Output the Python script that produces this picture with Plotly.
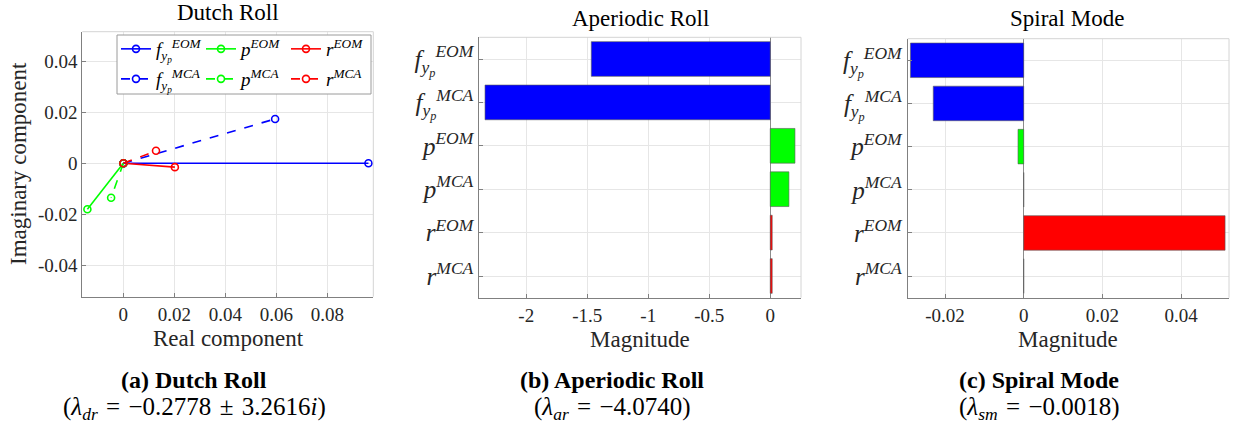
import plotly.graph_objects as go

W, H = 1233, 429
SERIF = "Liberation Serif, DejaVu Serif, serif"

# Dutch roll mode: real / imaginary components of each state, EOM vs MCA
dr_states = ["f", "p", "r"]
dr_eom_real = [0.0961, -0.0141, 0.0202]
dr_eom_imag = [0.0, -0.0180, -0.0015]
dr_mca_real = [0.0595, -0.0048, 0.0128]
dr_mca_imag = [0.0174, -0.0135, 0.0049]

# Bar categories (top to bottom)
bar_labels = [
    "<i>f</i><sub><i>y<sub>p</sub></i></sub><sup><i>EOM</i></sup>",
    "<i>f</i><sub><i>y<sub>p</sub></i></sub><sup><i>MCA</i></sup>",
    "<i>p</i><sup><i>EOM</i></sup>",
    "<i>p</i><sup><i>MCA</i></sup>",
    "<i>r</i><sup><i>EOM</i></sup>",
    "<i>r</i><sup><i>MCA</i></sup>",
]
# Aperiodic roll magnitudes
ar_values = [-1.467, -2.338, 0.2025, 0.153, 0.016, 0.016]
# Spiral mode magnitudes
sm_values = [-0.0288, -0.0230, -0.00145, 0.0, 0.0512, 0.0]

colors = {"f": "#0000ff", "p": "#00ff00", "r": "#ff0000"}
bar_colors = ["#0000ff", "#0000ff", "#00ff00", "#00ff00", "#ff0000", "#ff0000"]

legend_names = {
    "f": ("<i>f</i><sub><i>y<sub>p</sub></i></sub><sup><i>EOM</i></sup>",
          "<i>f</i><sub><i>y<sub>p</sub></i></sub><sup><i>MCA</i></sup>"),
    "p": ("<i>p</i><sup><i>EOM</i></sup>", "<i>p</i><sup><i>MCA</i></sup>"),
    "r": ("<i>r</i><sup><i>EOM</i></sup>", "<i>r</i><sup><i>MCA</i></sup>"),
}

fig = go.Figure()

# EOM traces (solid) -> first legend row
for i, s in enumerate(dr_states):
    fig.add_trace(go.Scatter(
        x=[0, dr_eom_real[i]], y=[0, dr_eom_imag[i]],
        mode="lines+markers", name=legend_names[s][0],
        line=dict(color=colors[s], width=1.6),
        marker=dict(symbol="circle-open", size=7, color=colors[s], line=dict(width=1.6)),
        xaxis="x", yaxis="y", legend="legend",
    ))
# MCA traces (dashed) -> second legend row
for i, s in enumerate(dr_states):
    fig.add_trace(go.Scatter(
        x=[0, dr_mca_real[i]], y=[0, dr_mca_imag[i]],
        mode="lines+markers", name=legend_names[s][1],
        line=dict(color=colors[s], width=1.6, dash="dash"),
        marker=dict(symbol="circle-open", size=7, color=colors[s], line=dict(width=1.6)),
        xaxis="x", yaxis="y", legend="legend2",
    ))

fig.add_trace(go.Bar(
    x=ar_values, y=bar_labels, orientation="h", width=0.8,
    marker=dict(color=bar_colors, line=dict(color="#5a5a5a", width=0.6)),
    xaxis="x2", yaxis="y2", showlegend=False,
))
fig.add_trace(go.Bar(
    x=sm_values, y=bar_labels, orientation="h", width=0.8,
    marker=dict(color=bar_colors, line=dict(color="#5a5a5a", width=0.6)),
    xaxis="x3", yaxis="y3", showlegend=False,
))


def px(x):
    return x / W


def py(y):
    return 1 - y / H


tickfont = dict(family=SERIF, size=19, color="#262626")
catfont = dict(family=SERIF, size=25, color="#262626")
grid = "#e6e6e6"
axline = "#808080"

common = dict(showgrid=True, gridcolor=grid, showline=True, linecolor=axline,
              linewidth=1, ticks="inside", ticklen=4, tickcolor=axline,
              tickfont=tickfont, zeroline=False)

dom_a = ([px(82.3), px(373.3)], [py(296.7), py(31.7)])
dom_b = ([px(479.3), px(801.0)], [py(297.7), py(37.3)])
dom_c = ([px(907.7), px(1229.0)], [py(297.7), py(38.7)])

legend_style = dict(orientation="h", xanchor="left", yanchor="top",
                    bgcolor="rgba(0,0,0,0)", entrywidth=40, entrywidthmode="pixels",
                    itemwidth=30, font=dict(family=SERIF, size=19, color="#000"),
                    tracegroupgap=0)

fig.update_layout(
    width=W, height=H,
    margin=dict(l=0, r=0, t=0, b=0),
    paper_bgcolor="white", plot_bgcolor="white",
    font=dict(family=SERIF),
    xaxis=dict(domain=dom_a[0], range=[-0.0161, 0.098],
               tickvals=[0, 0.02, 0.04, 0.06, 0.08],
               ticktext=["0", "0.02", "0.04", "0.06", "0.08"], **common),
    yaxis=dict(domain=dom_a[1], range=[-0.0523, 0.0516],
               tickvals=[-0.04, -0.02, 0, 0.02, 0.04],
               ticktext=["-0.04", "-0.02", "0", "0.02", "0.04"], **common),
    xaxis2=dict(domain=dom_b[0], range=[-2.385, 0.252], anchor="y2",
                tickvals=[-2, -1.5, -1, -0.5, 0],
                ticktext=["-2", "-1.5", "-1", "-0.5", "0"], **common),
    yaxis2=dict(domain=dom_b[1], anchor="x2", categoryorder="array",
                categoryarray=bar_labels, autorange="reversed",
                **{**common, "tickfont": catfont}),
    xaxis3=dict(domain=dom_c[0], range=[-0.0295, 0.0522], anchor="y3",
                tickvals=[-0.02, 0, 0.02, 0.04],
                ticktext=["-0.02", "0", "0.02", "0.04"], **common),
    yaxis3=dict(domain=dom_c[1], anchor="x3", categoryorder="array",
                categoryarray=bar_labels, autorange="reversed",
                **{**common, "tickfont": catfont}),
    bargap=0.2,
    legend=dict(x=px(116), y=py(30), **legend_style),
    legend2=dict(x=px(116), y=py(60), **legend_style),
)

# zero lines on the bar charts
for name in ("xaxis2", "xaxis3"):
    fig.layout[name].update(zeroline=True, zerolinecolor="#8c8c8c", zerolinewidth=1)

shapes = []
# light top / right frame edges
for xd, yd in (("x domain", "y domain"), ("x2 domain", "y2 domain"), ("x3 domain", "y3 domain")):
    shapes.append(dict(type="line", xref=xd, yref=yd, x0=0, x1=1, y0=1, y1=1,
                       line=dict(color="#d4d4d4", width=1)))
    shapes.append(dict(type="line", xref=xd, yref=yd, x0=1, x1=1, y0=0, y1=1,
                       line=dict(color="#d4d4d4", width=1)))
# legend box
shapes.append(dict(type="rect", xref="paper", yref="paper",
                   x0=px(117), x1=px(371.0), y0=py(94.0), y1=py(35.0),
                   fillcolor="white", line=dict(color="#9a9a9a", width=1), layer="above"))
fig.update_layout(shapes=shapes)

ann = []
title_font = dict(family=SERIF, size=23, color="#000")
label_font = dict(family=SERIF, size=23, color="#262626")
for text, x, y in (("Dutch Roll", 228, 13), ("Aperiodic Roll", 640, 19), ("Spiral Mode", 1067, 19)):
    ann.append(dict(text=text, x=px(x), y=py(y), xref="paper", yref="paper",
                    showarrow=False, xanchor="center", yanchor="middle", font=title_font))
for text, x, y in (("Real component", 228, 338), ("Magnitude", 640, 339), ("Magnitude", 1068, 339)):
    ann.append(dict(text=text, x=px(x), y=py(y), xref="paper", yref="paper",
                    showarrow=False, xanchor="center", yanchor="middle", font=label_font))
ann.append(dict(text="Imaginary component", x=px(19), y=py(164), xref="paper", yref="paper",
                showarrow=False, xanchor="center", yanchor="middle", textangle=-90,
                font=label_font))

head_font = dict(family=SERIF, size=24, color="#000")
eq_font = dict(family=SERIF, size=25, color="#000")
sp = "\u2004"
captions = [
    ("<b>(a) Dutch Roll</b>",
     f"(<i>λ</i><sub><i>dr</i></sub>{sp}={sp}−0.2778{sp}±{sp}3.2616<i>i</i>)", 194),
    ("<b>(b) Aperiodic Roll</b>", f"(<i>λ</i><sub><i>ar</i></sub>{sp}={sp}−4.0740)", 612),
    ("<b>(c) Spiral Mode</b>", f"(<i>λ</i><sub><i>sm</i></sub>{sp}={sp}−0.0018)", 1039),
]
for head, eq, x in captions:
    ann.append(dict(text=head, x=px(x), y=py(380), xref="paper", yref="paper",
                    showarrow=False, xanchor="center", yanchor="middle", font=head_font))
    ann.append(dict(text=eq, x=px(x), y=py(408), xref="paper", yref="paper",
                    showarrow=False, xanchor="center", yanchor="middle", font=eq_font))
fig.update_layout(annotations=ann)

fig.write_html("out.html")
